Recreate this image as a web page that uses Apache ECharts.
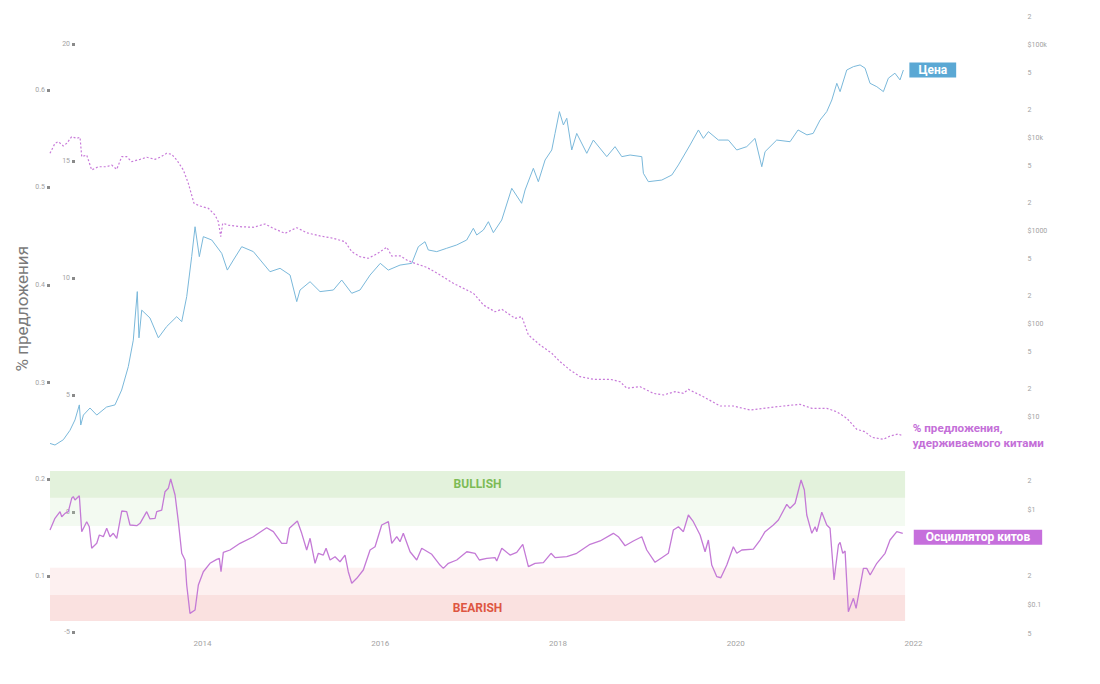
<!DOCTYPE html>
<html><head><meta charset="utf-8">
<script src="https://cdn.jsdelivr.net/npm/echarts@6/dist/echarts.min.js"></script>
<style>html,body{margin:0;padding:0;background:#fff}#c{width:1100px;height:684px}</style>
</head><body><div id="c"></div>
<script>
// ---------- DATA ----------
// time is given as decimal years
const priceYears = [2012.284,2012.340,2012.434,2012.509,2012.565,2012.614,2012.630,2012.660,2012.734,2012.810,2012.920,2013.015,2013.090,2013.165,2013.221,2013.266,2013.285,2013.316,2013.409,2013.503,2013.597,2013.710,2013.766,2013.822,2013.878,2013.916,2013.964,2014.009,2014.104,2014.216,2014.279,2014.347,2014.441,2014.572,2014.759,2014.872,2014.985,2015.060,2015.097,2015.210,2015.322,2015.472,2015.566,2015.679,2015.772,2015.885,2016.000,2016.090,2016.222,2016.354,2016.428,2016.503,2016.540,2016.635,2016.747,2016.860,2016.972,2017.047,2017.085,2017.160,2017.216,2017.272,2017.366,2017.479,2017.590,2017.629,2017.722,2017.778,2017.854,2017.929,2017.966,2018.015,2018.060,2018.098,2018.154,2018.210,2018.323,2018.397,2018.548,2018.641,2018.717,2018.810,2018.942,2018.960,2019.016,2019.167,2019.280,2019.354,2019.485,2019.579,2019.635,2019.691,2019.804,2019.916,2020.010,2020.123,2020.216,2020.292,2020.329,2020.460,2020.610,2020.700,2020.800,2020.870,2020.948,2021.023,2021.080,2021.136,2021.173,2021.248,2021.323,2021.398,2021.454,2021.510,2021.586,2021.660,2021.716,2021.790,2021.847,2021.885];
const priceUSD = [5.2,5.0,5.7,7.2,9.3,13.5,8.2,10.5,12.5,10.5,12.8,13.5,19.5,34.8,67,223,71,141,116,71,94,120,106,197,530,1111,530,869,800,575,380,487,678,600,365,397,336,174,232,285,223,232,297,214,232,336,449,380,430,449,678,767,625,600,652,708,800,1069,906,1025,1259,960,1312,2877,1985,2760,4720,3388,5800,7430,11200,19200,13800,16300,7430,11200,6840,9500,6300,8070,6300,6560,6300,4170,3390,3530,4000,5130,8410,12200,9900,11700,9500,9500,7430,8070,9900,4910,7130,9500,9120,12200,10800,11200,15600,19200,25600,38700,31500,53800,58500,61000,56300,38700,35600,31500,43900,49700,42100,53800];

const whaleYears = [2012.284,2012.340,2012.378,2012.434,2012.472,2012.528,2012.585,2012.622,2012.641,2012.697,2012.753,2012.828,2012.922,2012.978,2013.035,2013.091,2013.147,2013.203,2013.297,2013.372,2013.466,2013.522,2013.597,2013.653,2013.710,2013.784,2013.840,2013.904,2013.972,2014.065,2014.141,2014.178,2014.205,2014.227,2014.290,2014.422,2014.572,2014.703,2014.797,2014.928,2015.060,2015.172,2015.322,2015.472,2015.603,2015.679,2015.772,2015.866,2015.960,2016.073,2016.129,2016.222,2016.298,2016.391,2016.523,2016.672,2016.822,2016.973,2017.047,2017.114,2017.160,2017.291,2017.367,2017.516,2017.592,2017.666,2017.797,2017.929,2018.023,2018.135,2018.248,2018.397,2018.585,2018.698,2018.773,2018.923,2019.072,2019.185,2019.316,2019.410,2019.466,2019.635,2019.823,2019.972,2020.160,2020.310,2020.535,2020.723,2020.855,2021.023,2021.136,2021.248,2021.361,2021.454,2021.530,2021.660,2021.736,2021.829,2021.879];
const whaleShare = [0.5351,0.5453,0.547,0.5426,0.5453,0.5521,0.5504,0.5515,0.5316,0.5333,0.518,0.5213,0.5213,0.523,0.5187,0.5316,0.5316,0.5265,0.5289,0.531,0.5289,0.531,0.5351,0.534,0.5282,0.518,0.5043,0.4838,0.481,0.4787,0.4718,0.4649,0.4496,0.4633,0.4615,0.4598,0.4592,0.4626,0.4581,0.453,0.4588,0.4536,0.4503,0.4479,0.4444,0.4342,0.429,0.4274,0.4318,0.4387,0.4297,0.43,0.4256,0.4222,0.4181,0.4103,0.4017,0.3949,0.3915,0.3846,0.3795,0.3726,0.3751,0.3658,0.3675,0.3487,0.3385,0.33,0.3213,0.3128,0.306,0.3033,0.3033,0.3008,0.2941,0.2957,0.2889,0.2872,0.2906,0.2889,0.293,0.2854,0.2759,0.2759,0.2718,0.2735,0.2759,0.2776,0.2735,0.2735,0.27,0.2633,0.252,0.2495,0.2438,0.2417,0.2451,0.2472,0.2451];

const oscYears = [2012.284,2012.340,2012.397,2012.416,2012.453,2012.490,2012.528,2012.546,2012.565,2012.614,2012.641,2012.697,2012.726,2012.753,2012.810,2012.839,2012.884,2012.922,2012.959,2012.996,2013.035,2013.091,2013.147,2013.184,2013.260,2013.297,2013.372,2013.409,2013.466,2013.485,2013.541,2013.578,2013.615,2013.642,2013.691,2013.728,2013.766,2013.803,2013.822,2013.859,2013.916,2013.953,2014.009,2014.084,2014.160,2014.189,2014.208,2014.234,2014.309,2014.422,2014.572,2014.722,2014.797,2014.891,2014.947,2014.977,2015.067,2015.116,2015.172,2015.210,2015.266,2015.303,2015.359,2015.390,2015.435,2015.491,2015.547,2015.603,2015.640,2015.679,2015.735,2015.809,2015.885,2015.941,2016.016,2016.091,2016.129,2016.185,2016.222,2016.259,2016.335,2016.410,2016.466,2016.579,2016.672,2016.709,2016.766,2016.860,2016.973,2017.066,2017.114,2017.198,2017.291,2017.310,2017.367,2017.460,2017.535,2017.603,2017.666,2017.741,2017.835,2017.921,2017.966,2018.098,2018.210,2018.360,2018.473,2018.622,2018.678,2018.754,2018.847,2018.942,2018.998,2019.091,2019.167,2019.241,2019.297,2019.354,2019.410,2019.466,2019.522,2019.598,2019.654,2019.691,2019.729,2019.786,2019.831,2019.898,2019.972,2020.011,2020.067,2020.197,2020.273,2020.329,2020.422,2020.479,2020.573,2020.610,2020.667,2020.734,2020.771,2020.798,2020.855,2020.892,2020.911,2020.967,2021.023,2021.060,2021.105,2021.154,2021.173,2021.203,2021.229,2021.266,2021.323,2021.353,2021.435,2021.473,2021.511,2021.586,2021.679,2021.735,2021.811,2021.878];
const oscValues = [0.1474,0.1595,0.1663,0.1611,0.1646,0.1663,0.1801,0.1818,0.1784,0.1828,0.1457,0.156,0.1508,0.1286,0.1337,0.1423,0.1405,0.1492,0.1405,0.144,0.1389,0.167,0.1663,0.1526,0.1519,0.1543,0.1663,0.1588,0.1595,0.1663,0.168,0.1869,0.1904,0.2,0.1835,0.156,0.1234,0.1165,0.0907,0.0615,0.065,0.0907,0.1044,0.1131,0.1172,0.1182,0.1044,0.1244,0.1268,0.1337,0.1405,0.1498,0.1457,0.1337,0.1337,0.1492,0.1567,0.144,0.1268,0.1389,0.1131,0.1234,0.1216,0.1286,0.1165,0.1199,0.1147,0.1216,0.1044,0.0925,0.0976,0.1062,0.1268,0.1302,0.1526,0.156,0.1337,0.1405,0.1354,0.144,0.125,0.1165,0.1286,0.1224,0.1113,0.1079,0.1131,0.1165,0.125,0.1234,0.1165,0.1182,0.1189,0.1155,0.1286,0.1216,0.1244,0.1327,0.1096,0.1131,0.1137,0.1234,0.1189,0.1199,0.1234,0.1327,0.1361,0.144,0.1405,0.1312,0.1361,0.1405,0.1268,0.1141,0.1189,0.1234,0.1474,0.1508,0.1457,0.1629,0.156,0.1423,0.125,0.1371,0.1113,0.0993,0.0982,0.1113,0.1302,0.1234,0.1268,0.1278,0.1371,0.1457,0.1526,0.1577,0.1739,0.1698,0.175,0.199,0.1887,0.1629,0.144,0.1508,0.1457,0.1657,0.1526,0.1492,0.0959,0.132,0.1347,0.1234,0.1258,0.0632,0.077,0.0667,0.1079,0.1079,0.101,0.1131,0.1234,0.1371,0.1457,0.144];

// oscillator zones (top, bottom) in oscillator units
const zoneNames = ['BULLISH', '', '', 'BEARISH'];
const zoneTops = [0.20825, 0.1807, 0.1086, 0.0804];
const zoneBottoms = [0.1807, 0.1515, 0.0804, 0.0536];
const zoneStart = 2012.284, zoneEnd = 2021.904;

// tick labels
const yearTicks = [2014, 2016, 2018, 2020, 2022];
const shareTicks = [0.3, 0.4, 0.5, 0.6];
const auxTopTicks = [5, 10, 15, 20];
const priceTicks = [10, 20, 50, 100, 200, 500, 1000, 2000, 5000, 10000, 20000, 50000, 100000, 200000];
const oscTicks = [0.1, 0.2];
const auxBottomTicks = [-5, 0];
const oscPriceTicks = [0.05, 0.1, 0.2, 1, 2];

// ---------- CHART ----------
const zip = (a, b) => a.map((v, i) => [v, b[i]]);
const FONT = 'Roboto';
const tickColor = '#8a8a8a';
const labelColor = '#a3a3a3';

function priceLabel(v) {
  const p = Math.floor(Math.log10(v) + 1e-9);
  const m = v / Math.pow(10, p);
  if (Math.abs(m - 1) < 1e-6) {
    if (v >= 10000) return '$' + (v / 1000) + 'k';
    return '$' + v;
  }
  return String(Math.round(m));
}

function leftAxis(gridIndex, min, max, ticks, offset, fmt) {
  // a tick exactly at 0 is nudged so it is not dropped as a falsy value
  const vals = ticks.map(v => (v === 0 ? 1e-9 : v));
  return {
    type: 'value', gridIndex, position: 'left', offset, min, max,
    axisLine: { show: false },
    splitLine: { show: false },
    axisTick: { show: true, length: 3, customValues: vals, lineStyle: { color: tickColor, width: 3 } },
    axisLabel: { customValues: vals, margin: 5, fontSize: 7, color: labelColor, fontFamily: FONT, formatter: fmt }
  };
}
function rightLogAxis(gridIndex, min, max, ticks) {
  return {
    type: 'log', logBase: 10, gridIndex, position: 'right', offset: 106, min, max,
    axisLine: { show: false }, splitLine: { show: false }, axisTick: { show: false },
    axisLabel: { customValues: ticks, margin: 8, fontSize: 7, color: labelColor, fontFamily: FONT, align: 'left', formatter: priceLabel }
  };
}

const zoneColors = ['rgba(170,215,150,0.33)', 'rgba(200,230,190,0.22)', 'rgba(240,150,150,0.14)', 'rgba(235,130,125,0.24)'];
const markAreaData = zoneTops.map((t, i) => [
  { name: zoneNames[i], xAxis: zoneStart, yAxis: t,
    itemStyle: { color: zoneColors[i] },
    label: { show: !!zoneNames[i], color: i === 0 ? '#7dbb55' : '#de5642' } },
  { xAxis: zoneEnd, yAxis: zoneBottoms[i] }
]);

const chart = echarts.init(document.getElementById('c'), null, { renderer: 'svg' });
chart.setOption({
  animation: false,
  backgroundColor: '#ffffff',
  textStyle: { fontFamily: FONT },
  grid: [
    { left: 50, right: 186.4, top: 10, height: 440, outerBoundsMode: 'none' },
    { left: 50, right: 186.4, top: 471, height: 164, outerBoundsMode: 'none' }
  ],
  xAxis: [
    { type: 'value', gridIndex: 0, min: 2012.284, max: 2022, show: false },
    { type: 'value', gridIndex: 1, min: 2012.284, max: 2022,
      axisLine: { show: false }, axisTick: { show: false }, splitLine: { show: false },
      axisLabel: { customValues: yearTicks, margin: 4, fontSize: 8, color: labelColor, fontFamily: FONT, formatter: v => String(v) } }
  ],
  yAxis: [
    leftAxis(0, 0.23077, 0.68205, shareTicks, 0, v => v.toFixed(1)),
    leftAxis(0, 2.65, 21.453, auxTopTicks, -25, v => String(Math.round(v))),
    rightLogAxis(0, 4.42, 237700, priceTicks),
    leftAxis(1, 0.03918, 0.20825, oscTicks, 0, v => v.toFixed(1)),
    leftAxis(1, -5.125, 1.708, auxBottomTicks, -25, v => String(Math.round(v))),
    rightLogAxis(1, 0.04832, 2.574, oscPriceTicks)
  ],
  graphic: [{
    type: 'text', left: 13, top: 246, rotation: Math.PI / 2,
    style: { text: '% предложения', fontSize: 17, fill: '#7a7a7a', fontFamily: FONT }
  }],
  series: [
    {
      name: 'Цена', type: 'line', xAxisIndex: 0, yAxisIndex: 2,
      data: zip(priceYears, priceUSD), showSymbol: false, symbol: 'none',
      lineStyle: { color: '#7ab8da', width: 1 },
      endLabel: { show: true, formatter: 'Цена', color: '#fff', backgroundColor: '#5aa8d4',
        padding: [2, 9, 1, 9], fontSize: 12, fontWeight: 'bold', fontFamily: FONT, distance: 6 }
    },
    {
      name: '% предложения, удерживаемого китами', type: 'line', xAxisIndex: 0, yAxisIndex: 0,
      data: zip(whaleYears, whaleShare), showSymbol: false, symbol: 'none',
      lineStyle: { color: '#c87ad9', width: 1.2, type: [2, 2] },
      endLabel: { show: true, formatter: '% предложения,\nудерживаемого китами', color: '#c46fd8',
        fontSize: 11.6, fontWeight: 'bold', lineHeight: 15, fontFamily: FONT, distance: 10, offset: [0, -1] }
    },
    {
      name: 'Осциллятор китов', type: 'line', xAxisIndex: 1, yAxisIndex: 3,
      data: zip(oscYears, oscValues), showSymbol: false, symbol: 'none',
      lineStyle: { color: '#c47ad6', width: 1.3 },
      endLabel: { show: true, formatter: 'Осциллятор китов', color: '#fff', backgroundColor: '#c66fdc',
        padding: [2, 12, 1, 12], fontSize: 12, fontWeight: 'bold', fontFamily: FONT, distance: 11, offset: [0, 4] },
      markArea: {
        silent: true,
        label: { position: 'inside', fontSize: 12, fontWeight: 'bold', fontFamily: FONT },
        data: markAreaData
      },
      z: 3
    }
  ]
});
</script>
</body></html>
